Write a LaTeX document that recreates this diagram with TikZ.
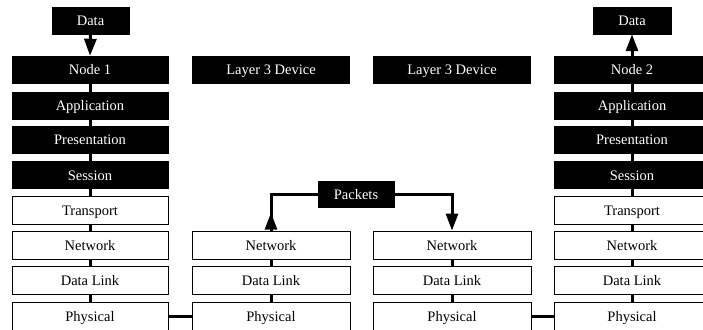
\documentclass[tikz,border=0pt]{standalone}
\usepackage{fontspec}
\setmainfont{Liberation Serif}
\usetikzlibrary{arrows.meta}
\begin{document}
\begin{tikzpicture}[x=1pt,y=-1pt,
  every node/.style={inner sep=0pt, text height=10.5pt, text depth=0pt, font=\fontsize{14.5}{16}\selectfont},
  blackbox/.style={fill=black, draw=black, text=white, minimum height=27pt},
  whitebox/.style={fill=white, draw=black, line width=0.8pt, text=black, minimum height=28pt},
  link/.style={line width=3pt},
  arr/.style={line width=3pt, -{Triangle[length=17pt,width=12pt]}}]
\useasboundingbox (0,0) rectangle (703,329);

% end station on the left
\node[blackbox, minimum width=77pt]  (ldata)  at (90.5,20.5) {Data};
\node[blackbox, minimum width=156pt] (lnode)  at (90,69.5)  {Node 1};
\node[blackbox, minimum width=156pt] (lapp)   at (90,105.5) {Application};
\node[blackbox, minimum width=156pt] (lpres)  at (90,139.5) {Presentation};
\node[blackbox, minimum width=156pt] (lsess)  at (90,175)   {Session};
\node[whitebox, minimum width=156pt] (ltrans) at (90,210)   {Transport};
\node[whitebox, minimum width=156pt] (lnet)   at (90,245)   {Network};
\node[whitebox, minimum width=156pt] (ldl)    at (90,280)   {Data Link};
\node[whitebox, minimum width=156pt] (lphys)  at (90,316.5) {Physical};

% first router
\node[blackbox, minimum width=157pt] (aname) at (271,69.5) {Layer 3 Device};
\node[whitebox, minimum width=158pt] (anet)  at (271,245)   {Network};
\node[whitebox, minimum width=158pt] (adl)   at (271,280)   {Data Link};
\node[whitebox, minimum width=158pt] (aphys) at (271,316.5) {Physical};

% second router
\node[blackbox, minimum width=157pt] (bname) at (452,69.5) {Layer 3 Device};
\node[whitebox, minimum width=158pt] (bnet)  at (452,245)   {Network};
\node[whitebox, minimum width=158pt] (bdl)   at (452,280)   {Data Link};
\node[whitebox, minimum width=158pt] (bphys) at (452,316.5) {Physical};

% end station on the right
\node[blackbox, minimum width=78pt]  (rdata)  at (632,20.5) {Data};
\node[blackbox, minimum width=156pt] (rnode)  at (632,69.5)  {Node 2};
\node[blackbox, minimum width=156pt] (rapp)   at (632,105.5) {Application};
\node[blackbox, minimum width=156pt] (rpres)  at (632,139.5) {Presentation};
\node[blackbox, minimum width=156pt] (rsess)  at (632,175)   {Session};
\node[whitebox, minimum width=156pt] (rtrans) at (632,210)   {Transport};
\node[whitebox, minimum width=156pt] (rnet)   at (632,245)   {Network};
\node[whitebox, minimum width=156pt] (rdl)    at (632,280)   {Data Link};
\node[whitebox, minimum width=156pt] (rphys)  at (632,316.5) {Physical};

\node[blackbox, minimum width=76pt, minimum height=26pt] (packets) at (356,194) {Packets};

% layer stacks
\foreach \a/\b in {lnode/lapp, lapp/lpres, lpres/lsess, lsess/ltrans, ltrans/lnet, lnet/ldl, ldl/lphys,
                   anet/adl, adl/aphys, bnet/bdl, bdl/bphys,
                   rnode/rapp, rapp/rpres, rpres/rsess, rsess/rtrans, rtrans/rnet, rnet/rdl, rdl/rphys}
  \draw[link] (\a.south) -- (\b.north);

% data in and out
\draw[arr] (ldata.south) -- (lnode.north);
\draw[arr] (rnode.north) -- (rdata.south);

% physical links
\draw[link] (lphys.east) -- (aphys.west);
\draw[link] (bphys.east) -- (rphys.west);

% packet routing
\draw[link] (packets.west) -| (anet.north);
\draw[arr] (anet.north) -- ++(0,-18);
\draw[arr] (packets.east) -| (bnet.north);
\end{tikzpicture}
\end{document}
